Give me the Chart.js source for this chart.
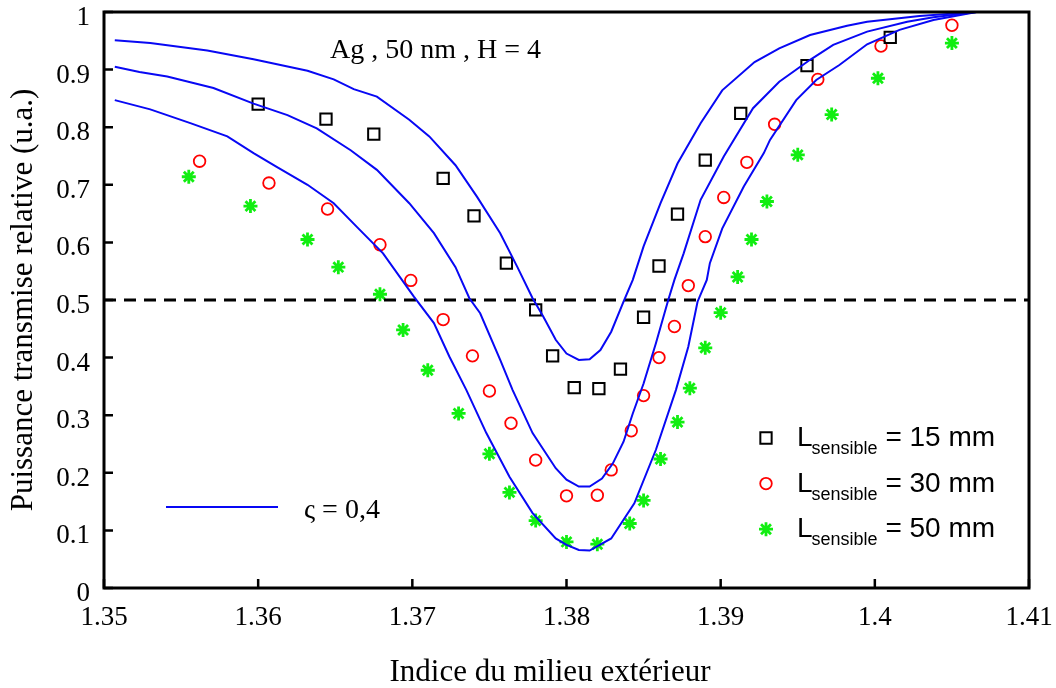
<!DOCTYPE html>
<html>
<head>
<meta charset="utf-8">
<script src="https://cdn.jsdelivr.net/npm/chart.js@4/dist/chart.umd.min.js"></script>
<style>
  html, body { margin: 0; padding: 0; background: #fff; }
  #wrap { width: 1056px; height: 688px; }
</style>
</head>
<body>
<div id="wrap"><canvas id="chart" width="1056" height="688"></canvas></div>
<script>
// measured points, L sensible = 15 / 30 / 50 mm
const sq15X = [1.3600,1.3644,1.3675,1.3720,1.3740,1.3761,1.3780,1.3791,1.3805,1.3821,1.3835,1.3850,1.3860,1.3872,1.3890,1.3913,1.3956,1.4010];
const sq15Y = [0.840,0.814,0.788,0.711,0.646,0.564,0.483,0.403,0.348,0.346,0.380,0.470,0.559,0.649,0.743,0.824,0.907,0.956];

const circ30X = [1.3562,1.3607,1.3645,1.3679,1.3699,1.3720,1.3739,1.3750,1.3764,1.3780,1.3800,1.3820,1.3829,1.3842,1.3850,1.3860,1.3870,1.3879,1.3890,1.3902,1.3917,1.3935,1.3963,1.4004,1.4050];
const circ30Y = [0.741,0.703,0.658,0.596,0.534,0.466,0.403,0.342,0.286,0.222,0.160,0.161,0.205,0.273,0.334,0.400,0.454,0.525,0.610,0.678,0.739,0.805,0.883,0.941,0.977];

const star50X = [1.3555,1.3595,1.3632,1.3652,1.3679,1.3694,1.3710,1.3730,1.3750,1.3763,1.3780,1.3800,1.3820,1.3841,1.3850,1.3861,1.3872,1.3880,1.3890,1.3900,1.3911,1.3920,1.3930,1.3950,1.3972,1.4002,1.4050];
const star50Y = [0.714,0.663,0.605,0.557,0.510,0.448,0.378,0.303,0.233,0.166,0.117,0.080,0.076,0.112,0.152,0.224,0.288,0.347,0.417,0.478,0.540,0.605,0.671,0.752,0.822,0.885,0.946];

// simulated curves (zeta = 0,4)
const curveAX = [1.3507,1.3530,1.3567,1.3597,1.3632,1.3649,1.3662,1.3677,1.3698,1.3711,1.3728,1.3742,1.3757,1.3768,1.3778,1.3785,1.3793,1.3800,1.3808,1.3815,1.3822,1.3829,1.3837,1.3843,1.3850,1.3861,1.3872,1.3887,1.3901,1.3922,1.3938,1.3958,1.3982,1.3995,1.4029,1.4060,1.4066];
const curveAY = [0.951,0.946,0.933,0.918,0.898,0.883,0.866,0.853,0.813,0.784,0.734,0.679,0.616,0.558,0.503,0.471,0.431,0.407,0.396,0.397,0.413,0.445,0.497,0.535,0.593,0.668,0.737,0.807,0.864,0.913,0.937,0.960,0.976,0.983,0.993,0.999,1.000];

const curveBX = [1.3507,1.3523,1.3541,1.3571,1.3597,1.3619,1.3638,1.3660,1.3677,1.3698,1.3714,1.3728,1.3737,1.3744,1.3757,1.3765,1.3778,1.3793,1.3800,1.3808,1.3815,1.3823,1.3830,1.3837,1.3843,1.3850,1.3858,1.3866,1.3870,1.3876,1.3887,1.3902,1.3921,1.3938,1.3958,1.3973,1.3995,1.4021,1.4038,1.4066];
const curveBY = [0.905,0.896,0.888,0.868,0.841,0.821,0.798,0.760,0.726,0.668,0.616,0.557,0.503,0.477,0.396,0.344,0.269,0.208,0.188,0.176,0.176,0.190,0.216,0.254,0.303,0.355,0.425,0.500,0.535,0.581,0.674,0.749,0.833,0.879,0.917,0.943,0.966,0.983,0.991,1.000];

const curveCX = [1.3507,1.3530,1.3556,1.3580,1.3597,1.3612,1.3632,1.3649,1.3664,1.3681,1.3701,1.3714,1.3724,1.3735,1.3748,1.3763,1.3778,1.3793,1.3800,1.3808,1.3815,1.3829,1.3844,1.3858,1.3871,1.3879,1.3885,1.3891,1.3893,1.3901,1.3915,1.3928,1.3932,1.3949,1.3962,1.3977,1.3995,1.4016,1.4038,1.4066];
const curveCY = [0.847,0.831,0.807,0.784,0.755,0.731,0.700,0.668,0.627,0.581,0.506,0.460,0.402,0.344,0.269,0.193,0.130,0.086,0.075,0.066,0.065,0.086,0.147,0.240,0.344,0.419,0.497,0.535,0.564,0.624,0.697,0.755,0.778,0.847,0.882,0.908,0.944,0.969,0.986,1.000];

const halfX = [1.35, 1.41];
const halfY = [0.5, 0.5];

const legendLabels = ['= 15 mm', '= 30 mm', '= 50 mm'];

const SERIF = '"Liberation Serif", "Times New Roman", serif';
const SANS = '"Liberation Sans", Arial, sans-serif';
const BLUE = '#0808f4';

function pts(xs, ys) { return xs.map((x, i) => ({x: x, y: ys[i]})); }

function curve(xs, ys) {
  return {data: pts(xs, ys), showLine: true, borderColor: BLUE, borderWidth: 2,
    pointRadius: 0, tension: 0, fill: false};
}

const markerSets = [
  {data: pts(sq15X, sq15Y), pointStyle: 'rect', pointRadius: 8, borderWidth: 2,
    borderColor: '#000', backgroundColor: 'rgba(0,0,0,0)'},
  {data: pts(circ30X, circ30Y), pointStyle: 'circle', pointRadius: 5.8, borderWidth: 1.8,
    borderColor: '#ff0000', backgroundColor: 'rgba(0,0,0,0)'},
  {data: pts(star50X, star50Y), pointStyle: 'star', pointRadius: 7, borderWidth: 2.8,
    borderColor: '#11ee11', backgroundColor: '#11ee11'}
];

const extras = {
  id: 'extras',
  afterDraw(chart) {
    const ctx = chart.ctx;
    const a = chart.chartArea;
    const xs = chart.scales.x, ys = chart.scales.y;
    ctx.save();
    // frame
    ctx.strokeStyle = '#000';
    ctx.lineWidth = 3;
    ctx.strokeRect(a.left, a.top, a.right - a.left, a.bottom - a.top);
    // inward ticks on left and bottom
    ctx.lineWidth = 2.5;
    ctx.beginPath();
    ys.ticks.forEach(t => {
      const p = ys.getPixelForValue(t.value);
      ctx.moveTo(a.left, p); ctx.lineTo(a.left + 9, p);
    });
    xs.ticks.forEach(t => {
      const p = xs.getPixelForValue(t.value);
      ctx.moveTo(p, a.bottom); ctx.lineTo(p, a.bottom - 9);
    });
    ctx.stroke();

    ctx.fillStyle = '#000';
    ctx.textBaseline = 'alphabetic';
    ctx.textAlign = 'center';
    ctx.font = '31px ' + SERIF;
    ctx.fillText('Indice du milieu extérieur', 550, 681);
    ctx.textAlign = 'left';
    ctx.font = '28px ' + SERIF;
    ctx.fillText('Ag , 50 nm , H = 4', 330, 58);

    // curve legend
    ctx.strokeStyle = BLUE;
    ctx.lineWidth = 2;
    ctx.beginPath(); ctx.moveTo(166, 507); ctx.lineTo(278, 507); ctx.stroke();
    ctx.fillText('ς = 0,4', 304, 518);

    // marker legend
    for (let i = 0; i < 3; i++) {
      const ds = markerSets[i];
      const y = 446 + i * 45.6;
      ctx.strokeStyle = ds.borderColor;
      ctx.fillStyle = ds.backgroundColor;
      ctx.lineWidth = ds.borderWidth;
      Chart.helpers.drawPoint(ctx, {pointStyle: ds.pointStyle, radius: ds.pointRadius,
        rotation: 0, borderWidth: ds.borderWidth}, 766, y - 8);
      ctx.fillStyle = '#000';
      ctx.font = '28px ' + SANS;
      ctx.fillText('L', 797, y);
      let x = 797 + ctx.measureText('L').width - 1;
      ctx.font = '18px ' + SANS;
      ctx.fillText('sensible', x, y + 8);
      x += ctx.measureText('sensible').width;
      ctx.font = '28px ' + SANS;
      ctx.fillText(' ' + legendLabels[i], x, y);
    }
    ctx.restore();
  }
};

const tickFont = {family: SERIF, size: 27};

new Chart(document.getElementById('chart'), {
  type: 'scatter',
  data: {
    datasets: [
      curve(curveAX, curveAY),
      curve(curveBX, curveBY),
      curve(curveCX, curveCY),
      {data: pts(halfX, halfY), showLine: true, borderColor: '#000', borderWidth: 3,
        borderDash: [12, 8], pointRadius: 0, fill: false},
      ...markerSets
    ]
  },
  options: {
    responsive: false,
    animation: false,
    events: [],
    layout: {padding: {top: 12, right: 27, left: 0, bottom: 0}},
    plugins: {legend: {display: false}, tooltip: {enabled: false}},
    scales: {
      x: {
        type: 'linear', min: 1.35, max: 1.41,
        ticks: {stepSize: 0.01, autoSkip: false, maxRotation: 0, padding: 14,
          color: '#000', font: tickFont,
          callback: v => String(+v.toFixed(2))},
        grid: {display: false, drawTicks: false},
        border: {display: false},
        afterFit: s => { s.height = 100; s.paddingLeft = 0; s.paddingRight = 0; }
      },
      y: {
        type: 'linear', min: 0, max: 1,
        ticks: {stepSize: 0.1, padding: 14, labelOffset: 6, color: '#000', font: tickFont,
          callback: v => String(+v.toFixed(1))},
        grid: {display: false, drawTicks: false},
        border: {display: false},
        title: {display: true, text: 'Puissance transmise relative (u.a.)', color: '#000',
          font: {family: SERIF, size: 31, lineHeight: 1.2}, padding: {top: 5, bottom: 0}},
        afterFit: s => { s.width = 104; s.paddingTop = 0; s.paddingBottom = 0; }
      }
    }
  },
  plugins: [extras]
});
</script>
</body>
</html>
